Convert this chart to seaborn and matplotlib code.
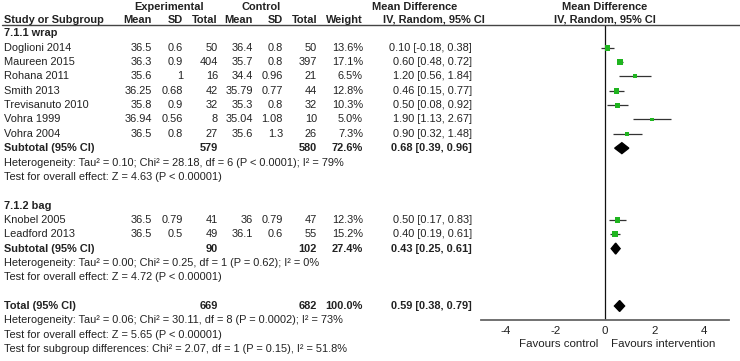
# Forest plot: temperature, wrap vs bag subgroups
import numpy as np
import pandas as pd
import matplotlib
matplotlib.use('Agg')
import matplotlib.pyplot as plt
import matplotlib.transforms as mtransforms
from matplotlib.patches import Polygon
from matplotlib.lines import Line2D
import seaborn as sns

# ---- data -------------------------------------------------------------
studies = ['Doglioni 2014', 'Maureen 2015', 'Rohana 2011', 'Smith 2013', 'Trevisanuto 2010',
           'Vohra 1999', 'Vohra 2004', 'Knobel 2005', 'Leadford 2013']
group = ['wrap'] * 7 + ['bag'] * 2
exp_mean = ['36.5', '36.3', '35.6', '36.25', '35.8', '36.94', '36.5', '36.5', '36.5']
exp_sd = ['0.6', '0.9', '1', '0.68', '0.9', '0.56', '0.8', '0.79', '0.5']
exp_n = [50, 404, 16, 42, 32, 8, 27, 41, 49]
ctl_mean = ['36.4', '35.7', '34.4', '35.79', '35.3', '35.04', '35.6', '36', '36.1']
ctl_sd = ['0.8', '0.8', '0.96', '0.77', '0.8', '1.08', '1.3', '0.79', '0.6']
ctl_n = [50, 397, 21, 44, 32, 10, 26, 47, 55]
weight = [13.6, 17.1, 6.5, 12.8, 10.3, 5.0, 7.3, 12.3, 15.2]
md = [0.10, 0.60, 1.20, 0.46, 0.50, 1.90, 0.90, 0.50, 0.40]
ci_lo = [-0.18, 0.48, 0.56, 0.15, 0.08, 1.13, 0.32, 0.17, 0.19]
ci_hi = [0.38, 0.72, 1.84, 0.77, 0.92, 2.67, 1.48, 0.83, 0.61]

subgroups = ['wrap', 'bag']
sub_titles = ['7.1.1 wrap', '7.1.2 bag']
sub_exp_n = [579, 90]
sub_ctl_n = [580, 102]
sub_weight = ['72.6%', '27.4%']
sub_md = [0.68, 0.43]
sub_lo = [0.39, 0.25]
sub_hi = [0.96, 0.61]
sub_het = ['Heterogeneity: Tau\u00b2 = 0.10; Chi\u00b2 = 28.18, df = 6 (P < 0.0001); I\u00b2 = 79%',
           'Heterogeneity: Tau\u00b2 = 0.00; Chi\u00b2 = 0.25, df = 1 (P = 0.62); I\u00b2 = 0%']
sub_z = ['Test for overall effect: Z = 4.63 (P < 0.00001)',
         'Test for overall effect: Z = 4.72 (P < 0.00001)']

tot_exp_n, tot_ctl_n = 669, 682
tot_md, tot_lo, tot_hi = 0.59, 0.38, 0.79
tot_notes = ['Heterogeneity: Tau\u00b2 = 0.06; Chi\u00b2 = 30.11, df = 8 (P = 0.0002); I\u00b2 = 73%',
             'Test for overall effect: Z = 5.65 (P < 0.00001)',
             'Test for subgroup differences: Chi\u00b2 = 2.07, df = 1 (P = 0.15), I\u00b2 = 51.8%']

x_ticks = [-4, -2, 0, 2, 4]

# ---- style ------------------------------------------------------------
sns.set_style('white')
plt.rcParams['font.family'] = ['Liberation Sans', 'DejaVu Sans']
FS = 7.95
TXT = '#222222'
GREEN = '#1fb41f'
LINE = '#333333'

W, H = 740, 361
fig = plt.figure(figsize=(W / 100, H / 100), dpi=100)

# forest panel: pixel box 481..729 wide, 24.5..320 tall
row0, step = 47.7, 14.35
top_px, bot_px = 24.5, 320
ax = fig.add_axes([481 / W, 1 - bot_px / H, (729 - 481) / W, (bot_px - top_px) / H])
ax.set_xlim(-5, 5)
ax.set_ylim((bot_px - row0) / step, (top_px - row0) / step)

# build row layout
rows = {}
k = -1
study_rows = []
sub_rows = []
for g, title in zip(subgroups, sub_titles):
    rows[title] = k
    k += 1
    for i, s in enumerate(studies):
        if group[i] == g:
            study_rows.append(k)
            k += 1
    sub_rows.append(k)
    k += 4
total_row = k

df = pd.DataFrame({'study': studies, 'md': md, 'lo': ci_lo, 'hi': ci_hi,
                   'weight': weight, 'row': study_rows})

# confidence intervals and weighted squares
ax.hlines(df['row'], df['lo'], df['hi'], color=LINE, lw=0.9, zorder=2)
sns.scatterplot(data=df, x='md', y='row', size='weight', sizes=(0, 22), size_norm=(0, 17.1),
                marker='s', color=GREEN, edgecolor='none', legend=False, ax=ax, zorder=3)

# diamonds
def diamond(y, est, lo, hi, h=0.38):
    ax.add_patch(Polygon([(lo, y), (est, y - h), (hi, y), (est, y + h)],
                         closed=True, color='black', zorder=4))

for r, m, lo_, hi_ in zip(sub_rows, sub_md, sub_lo, sub_hi):
    diamond(r, m, lo_, hi_)
diamond(total_row, tot_md, tot_lo, tot_hi)

ax.axvline(0, color='#111111', lw=0.9, zorder=1)

# axis styling
for sp in ['left', 'right', 'top']:
    ax.spines[sp].set_visible(False)
ax.spines['bottom'].set_color('#666666')
ax.spines['bottom'].set_linewidth(1.3)
ax.set_yticks([])
ax.set_xticks(x_ticks)
ax.set_xticklabels([str(t) for t in x_ticks])
ax.tick_params(axis='x', direction='inout', length=6, width=1, color='#666666',
               labelsize=FS + 0.3, labelcolor=TXT, pad=1.5)
ax.set_xlabel('')
ax.set_ylabel('')
ax.patch.set_alpha(0)

fav_y = (344 - row0) / step
ax.annotate('Favours control', xy=(0, fav_y), xycoords='data', xytext=(-5, 0),
            textcoords='offset points', ha='right', va='center', fontsize=FS + 0.3,
            color=TXT, annotation_clip=False)
ax.annotate('Favours intervention', xy=(0, fav_y), xycoords='data', xytext=(4, 0),
            textcoords='offset points', ha='left', va='center', fontsize=FS + 0.3,
            color=TXT, annotation_clip=False)

# ---- table text -------------------------------------------------------
tr = mtransforms.blended_transform_factory(fig.transFigure, ax.transData)


def put(px, row, s, ha='left', bold=False):
    fig.text(px / W, row, s, transform=tr, ha=ha, va='center', fontsize=FS,
             color=TXT, fontweight='bold' if bold else 'normal')


col_right = [152, 183, 218, 253, 283, 317, 363]
ci_right = 472

h1 = (6.5 - row0) / step
h2 = (20 - row0) / step
put(169, h1, 'Experimental', ha='center', bold=True)
put(261, h1, 'Control', ha='center', bold=True)
put(372, h1, 'Mean Difference', bold=True)
fig.text(0.5 * (481 + 729) / W, h1, 'Mean Difference', transform=tr, ha='center', va='center',
         fontsize=FS, color=TXT, fontweight='bold')
put(4, h2, 'Study or Subgroup', bold=True)
for x, s in zip(col_right, ['Mean', 'SD', 'Total', 'Mean', 'SD', 'Total', 'Weight']):
    put(x, h2, s, ha='right', bold=True)
put(383, h2, 'IV, Random, 95% CI', bold=True)
fig.text(0.5 * (481 + 729) / W, h2, 'IV, Random, 95% CI', transform=tr, ha='center', va='center',
         fontsize=FS, color=TXT, fontweight='bold')
fig.add_artist(Line2D([2 / W, 1], [1 - top_px / H] * 2, color='#444444', lw=1.0))

for gi, (g, title) in enumerate(zip(subgroups, sub_titles)):
    put(4, rows[title], title, bold=True)
    for i in range(len(studies)):
        if group[i] != g:
            continue
        r = study_rows[i]
        put(4, r, studies[i])
        vals = [exp_mean[i], exp_sd[i], str(exp_n[i]), ctl_mean[i], ctl_sd[i],
                str(ctl_n[i]), f'{weight[i]:.1f}%']
        for x, v in zip(col_right, vals):
            put(x, r, v, ha='right')
        put(ci_right, r, f'{md[i]:.2f} [{ci_lo[i]:.2f}, {ci_hi[i]:.2f}]', ha='right')
    r = sub_rows[gi]
    put(4, r, 'Subtotal (95% CI)', bold=True)
    put(col_right[2], r, str(sub_exp_n[gi]), ha='right', bold=True)
    put(col_right[5], r, str(sub_ctl_n[gi]), ha='right', bold=True)
    put(col_right[6], r, sub_weight[gi], ha='right', bold=True)
    put(ci_right, r, f'{sub_md[gi]:.2f} [{sub_lo[gi]:.2f}, {sub_hi[gi]:.2f}]', ha='right', bold=True)
    put(4, r + 1, sub_het[gi])
    put(4, r + 2, sub_z[gi])

put(4, total_row, 'Total (95% CI)', bold=True)
put(col_right[2], total_row, str(tot_exp_n), ha='right', bold=True)
put(col_right[5], total_row, str(tot_ctl_n), ha='right', bold=True)
put(col_right[6], total_row, '100.0%', ha='right', bold=True)
put(ci_right, total_row, f'{tot_md:.2f} [{tot_lo:.2f}, {tot_hi:.2f}]', ha='right', bold=True)
for j, note in enumerate(tot_notes):
    put(4, total_row + 1 + j, note)

fig.savefig('out.png', dpi=100)
